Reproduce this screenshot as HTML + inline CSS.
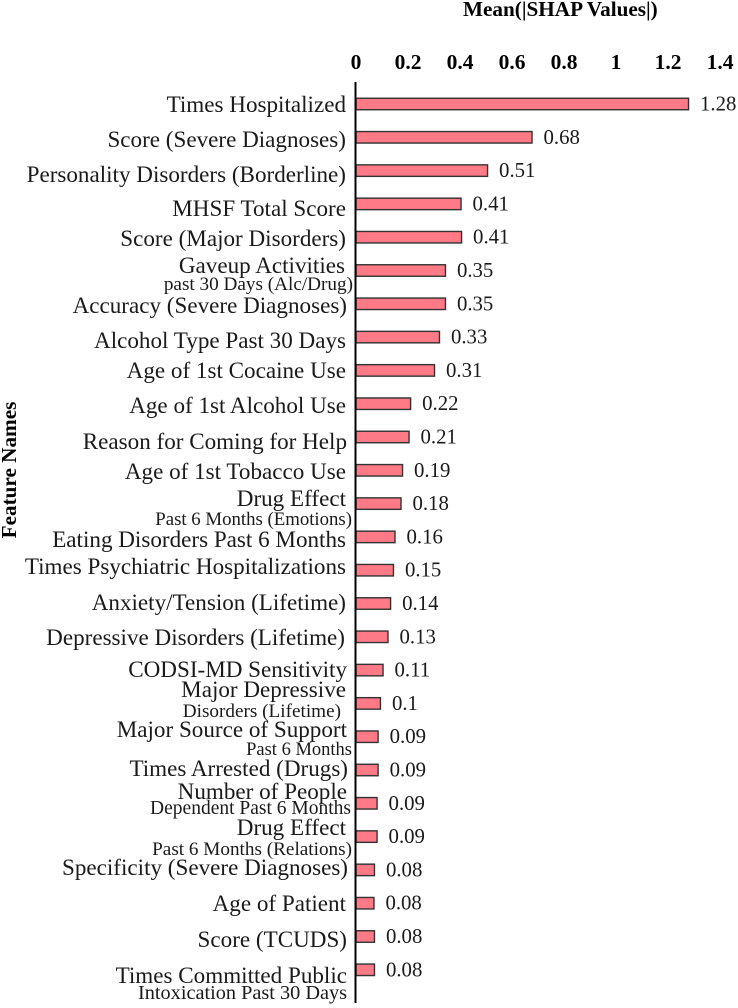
<!DOCTYPE html>
<html lang="en">
<head>
<meta charset="utf-8">
<title>Mean SHAP Values by Feature</title>
<style>
  html, body { margin: 0; padding: 0; background: #fff; }
  body { width: 738px; height: 1008px; overflow: hidden; }
  svg { display: block; font-family: "Liberation Serif", serif; fill: #1a1a1a; }
  .cat { font-size: 23.1px; text-anchor: end; }
  .sub { font-size: 19.2px; text-anchor: end; }
  .val { font-size: 20.8px; }
  .tick { font-size: 21.5px; font-weight: bold; text-anchor: middle; fill: #000; }
  .title { font-size: 21.2px; font-weight: bold; fill: #000; }
</style>
</head>
<body>
<svg id="chart" width="738" height="1008" viewBox="0 0 738 1008" xmlns="http://www.w3.org/2000/svg">
  <text class="title" x="463" y="16">Mean(|SHAP Values|)</text>
  <text class="title" transform="translate(16,470) rotate(-90)" text-anchor="middle">Feature Names</text>
  <g id="x-ticks"></g>
  <g id="bars"></g>
  <g id="values"></g>
  <line x1="355.5" y1="82" x2="355.5" y2="1003" stroke="#000" stroke-width="2"/>
  <g>
    <text class="cat" x="346" y="112">Times Hospitalized</text>
    <text class="cat" x="346" y="147">Score (Severe Diagnoses)</text>
    <text class="cat" x="346" y="182">Personality Disorders (Borderline)</text>
    <text class="cat" x="346" y="216">MHSF Total Score</text>
    <text class="cat" x="346" y="246">Score (Major Disorders)</text>
    <text class="cat" x="345" y="273">Gaveup Activities</text>
    <text class="sub" x="353" y="290">past 30 Days (Alc/Drug)</text>
    <text class="cat" x="347" y="313">Accuracy (Severe Diagnoses)</text>
    <text class="cat" x="346" y="348">Alcohol Type Past 30 Days</text>
    <text class="cat" x="346" y="378">Age of 1st Cocaine Use</text>
    <text class="cat" x="346" y="413">Age of 1st Alcohol Use</text>
    <text class="cat" x="347" y="449">Reason for Coming for Help</text>
    <text class="cat" x="346" y="479">Age of 1st Tobacco Use</text>
    <text class="cat" x="346" y="506">Drug Effect</text>
    <text class="sub" x="352" y="525" style="font-size:18.8px">Past 6 Months (Emotions)</text>
    <text class="cat" x="346" y="547">Eating Disorders Past 6 Months</text>
    <text class="cat" x="346" y="574">Times Psychiatric Hospitalizations</text>
    <text class="cat" x="346" y="610">Anxiety/Tension (Lifetime)</text>
    <text class="cat" x="345" y="645">Depressive Disorders (Lifetime)</text>
    <text class="cat" x="347" y="677">CODSI-MD Sensitivity</text>
    <text class="cat" x="346" y="697">Major Depressive</text>
    <text class="sub" x="341" y="717">Disorders (Lifetime)</text>
    <text class="cat" x="347" y="737">Major Source of Support</text>
    <text class="sub" x="352" y="755" style="font-size:18.5px">Past 6 Months</text>
    <text class="cat" x="348" y="776">Times Arrested (Drugs)</text>
    <text class="cat" x="347" y="799">Number of People</text>
    <text class="sub" x="351" y="814" style="font-size:19.5px">Dependent Past 6 Months</text>
    <text class="cat" x="346" y="835">Drug Effect</text>
    <text class="sub" x="352" y="855">Past 6 Months (Relations)</text>
    <text class="cat" x="348" y="875">Specificity (Severe Diagnoses)</text>
    <text class="cat" x="346" y="911">Age of Patient</text>
    <text class="cat" x="347" y="947">Score (TCUDS)</text>
    <text class="cat" x="347" y="983">Times Committed Public</text>
    <text class="sub" x="347" y="999" style="font-size:20.3px">Intoxication Past 30 Days</text>
  </g>
</svg>
<script>
const categories = ["Times Hospitalized", "Score (Severe Diagnoses)", "Personality Disorders (Borderline)", "MHSF Total Score", "Score (Major Disorders)", "Gaveup Activities past 30 Days (Alc/Drug)", "Accuracy (Severe Diagnoses)", "Alcohol Type Past 30 Days", "Age of 1st Cocaine Use", "Age of 1st Alcohol Use", "Reason for Coming for Help", "Age of 1st Tobacco Use", "Drug Effect Past 6 Months (Emotions)", "Eating Disorders Past 6 Months", "Times Psychiatric Hospitalizations", "Anxiety/Tension (Lifetime)", "Depressive Disorders (Lifetime)", "CODSI-MD Sensitivity", "Major Depressive Disorders (Lifetime)", "Major Source of Support Past 6 Months", "Times Arrested (Drugs)", "Number of People Dependent Past 6 Months", "Drug Effect Past 6 Months (Relations)", "Specificity (Severe Diagnoses)", "Age of Patient", "Score (TCUDS)", "Times Committed Public Intoxication Past 30 Days"];
const shapValues = [1.279, 0.677, 0.506, 0.404, 0.406, 0.344, 0.344, 0.321, 0.302, 0.21, 0.204, 0.179, 0.173, 0.15, 0.144, 0.133, 0.123, 0.104, 0.094, 0.085, 0.085, 0.081, 0.081, 0.071, 0.069, 0.071, 0.071];
const printedValues = ["1.28", "0.68", "0.51", "0.41", "0.41", "0.35", "0.35", "0.33", "0.31", "0.22", "0.21", "0.19", "0.18", "0.16", "0.15", "0.14", "0.13", "0.11", "0.1", "0.09", "0.09", "0.09", "0.09", "0.08", "0.08", "0.08", "0.08"];
const tickValues = [0, 0.2, 0.4, 0.6, 0.8, 1, 1.2, 1.4];
const tickLabels = ["0", "0.2", "0.4", "0.6", "0.8", "1", "1.2", "1.4"];

const NS = "http://www.w3.org/2000/svg";
function xScale(v) { return 356 + v * 260; }
function yScale(i) { return 104 + i * 33.3; }

const tickGroup = document.getElementById("x-ticks");
tickValues.forEach(function (t, i) {
  const el = document.createElementNS(NS, "text");
  el.setAttribute("class", "tick");
  el.setAttribute("x", xScale(t));
  el.setAttribute("y", 69);
  
  
  el.textContent = tickLabels[i];
  tickGroup.appendChild(el);
});

const barGroup = document.getElementById("bars");
const valueGroup = document.getElementById("values");
shapValues.forEach(function (v, i) {
  const cy = yScale(i);
  const bar = document.createElementNS(NS, "rect");
  bar.setAttribute("x", xScale(0));
  bar.setAttribute("y", cy - 5.75);
  bar.setAttribute("width", xScale(v) - xScale(0));
  bar.setAttribute("height", 11.5);
  bar.setAttribute("fill", "#ff7a87");
  bar.setAttribute("stroke", "#333");
  bar.setAttribute("stroke-width", "1.4");
  
  
  const title = document.createElementNS(NS, "title");
  title.textContent = categories[i];
  bar.appendChild(title);
  barGroup.appendChild(bar);

  const label = document.createElementNS(NS, "text");
  label.setAttribute("class", "val");
  label.setAttribute("x", xScale(v) + 11.5);
  label.setAttribute("y", cy + 6.5);
  
  
  label.textContent = printedValues[i];
  valueGroup.appendChild(label);
});
</script>
</body>
</html>
